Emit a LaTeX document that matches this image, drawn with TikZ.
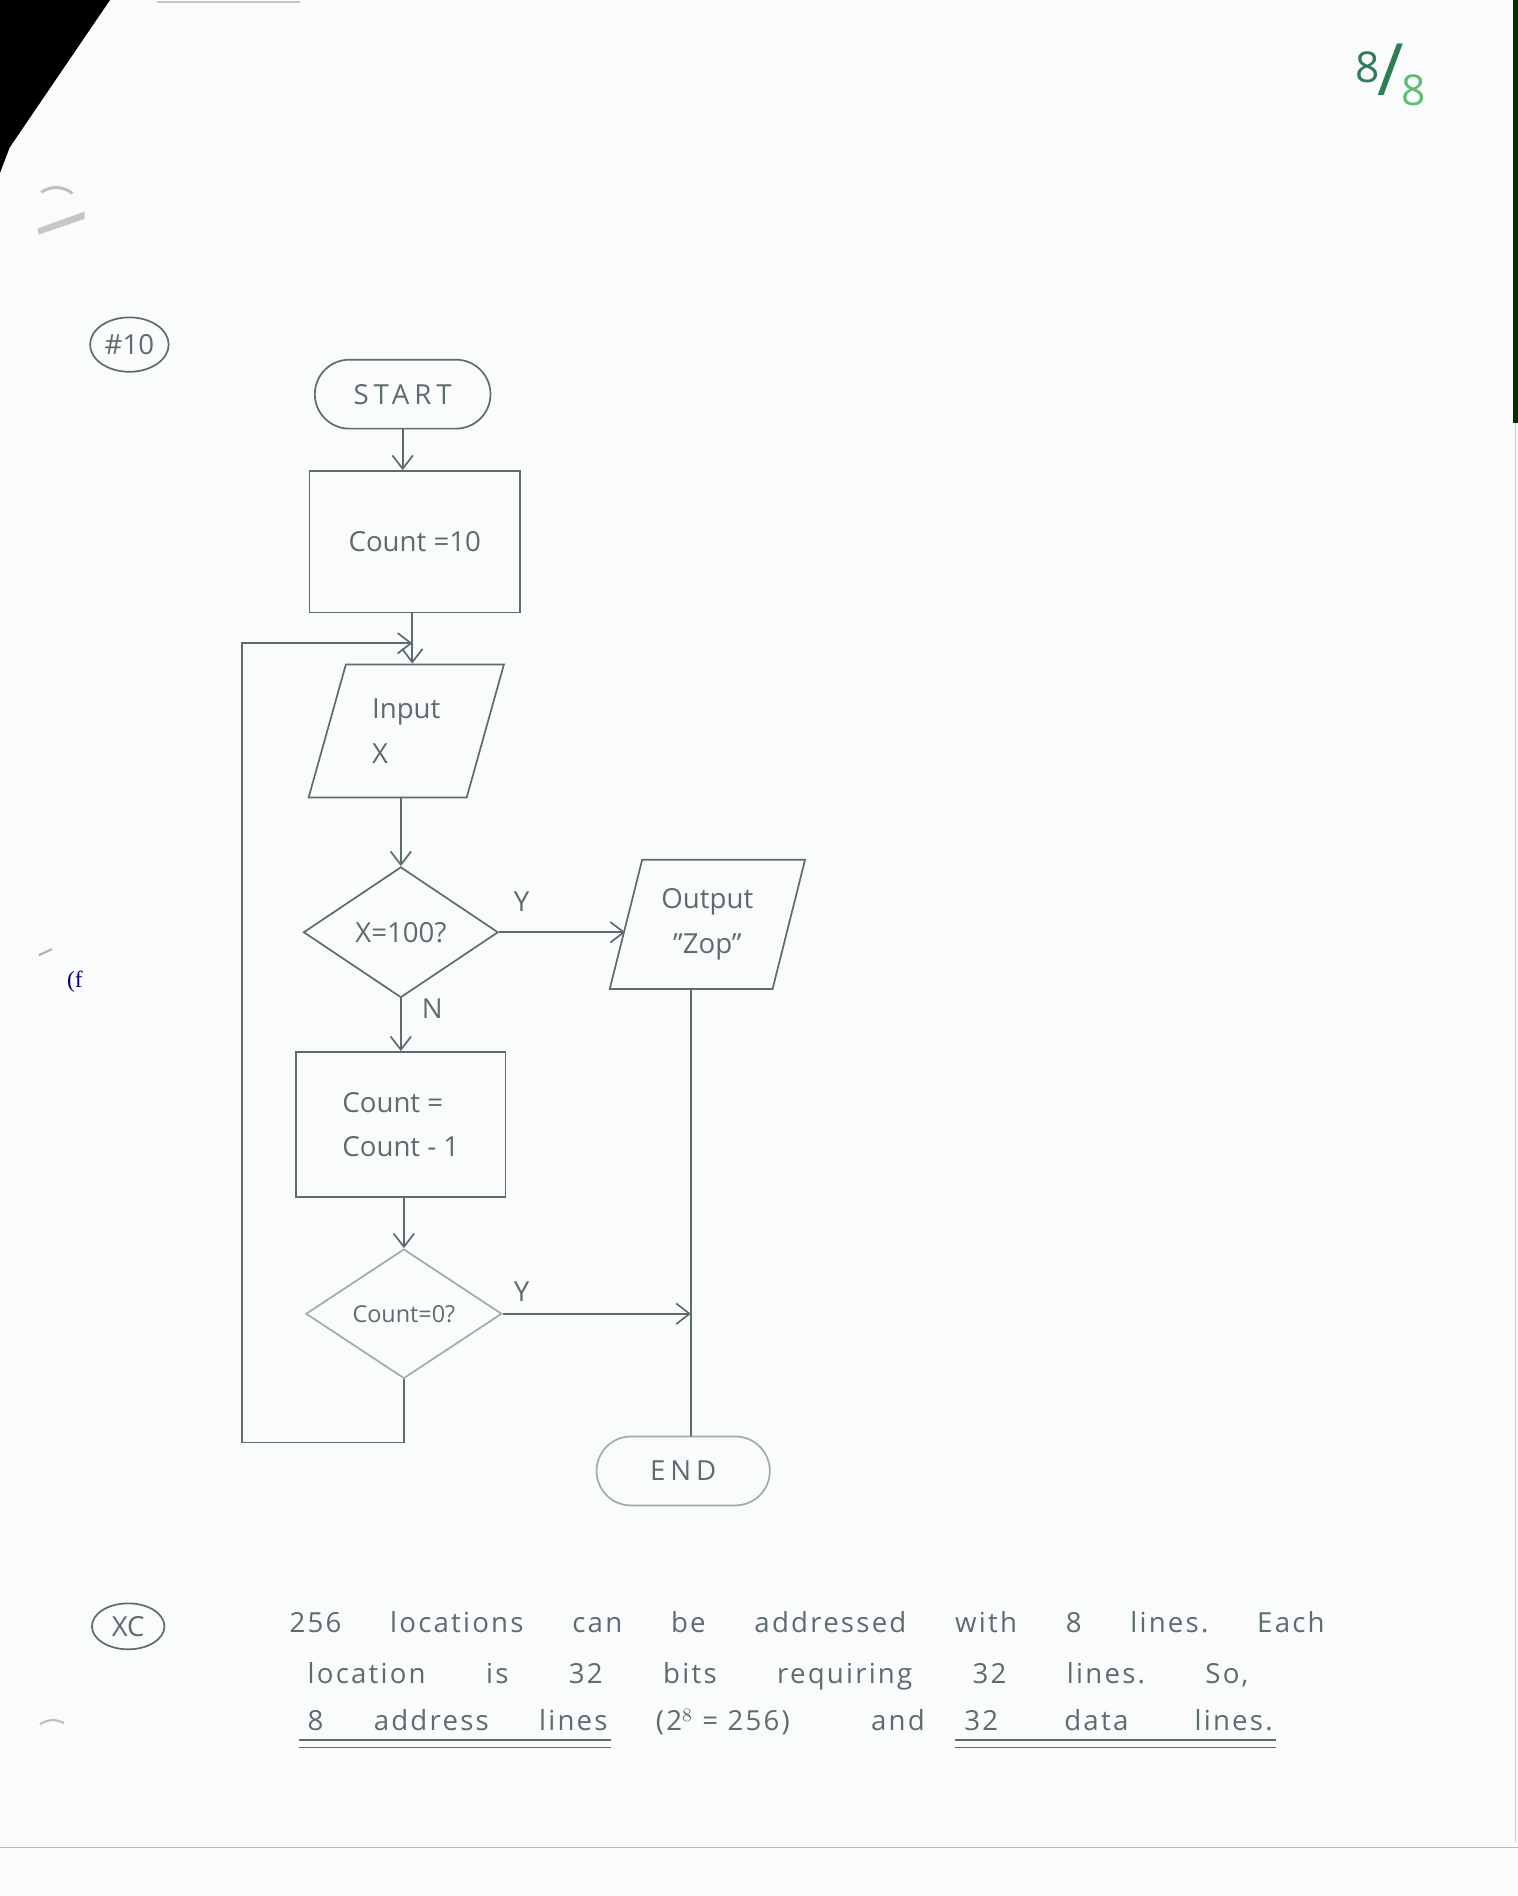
\documentclass[tikz,border=0pt]{standalone}
\usepackage{fontspec}
\setmainfont{Open Sans}
\newfontfamily\serifface{Liberation Serif}
\usetikzlibrary{shapes.geometric,shapes.misc,arrows.meta,calc}
\definecolor{paper}{RGB}{250,251,251}
\definecolor{pencil}{RGB}{92,108,112}
\definecolor{faint}{RGB}{155,172,178}
\definecolor{inkgreen}{RGB}{45,125,85}
\definecolor{litegreen}{RGB}{95,190,115}
\newcommand{\hand}{\fontsize{13}{21}\selectfont}
\frenchspacing

\begin{document}
\begin{tikzpicture}[>={Straight Barb[length=2.2mm,width=3.4mm]},line width=0.8pt,color=pencil,
    term/.style={rounded rectangle,draw,minimum width=3.14cm,minimum height=1.14cm,font=\hand},
    procbox/.style={rectangle,draw,minimum width=3.48cm,minimum height=2.34cm,font=\hand},
    iobox/.style={trapezium,trapezium left angle=75,trapezium right angle=105,draw,
        inner xsep=0pt,trapezium stretches=true,minimum width=3.24cm,minimum height=2.2cm,font=\hand},
    testbox/.style={diamond,draw,minimum width=3.22cm,minimum height=2.16cm,inner sep=0pt,font=\hand},
    lbl/.style={font=\hand,inner sep=1pt},
    ans/.style={font=\hand\addfontfeatures{LetterSpace=8},inner sep=1pt,anchor=base west}]
    % page and scan edges
    \fill[paper] (0,0) rectangle (25.1,31.36);
    \useasboundingbox (0,0) rectangle (25.1,31.36);
    \fill[black] (0,31.36) -- (1.82,31.36) -- (0.16,28.92) -- (0,28.5) -- cycle;
    \draw[gray!45,line width=1.2pt] (2.6,31.33) -- (4.96,31.33);
    \fill[black!80!green] (25.02,31.36) rectangle (25.1,24.36);
    \draw[litegreen!50,line width=0.6pt] (25.07,24.36) -- (25.07,0.9);
    \draw[gray!50,line width=1.4pt] (0.68,28.18) to[bend left=35] (1.2,28.16);
    \fill[gray!45] (0.62,27.58) -- (1.4,27.86) -- (1.4,27.74) -- (0.64,27.48) -- cycle;
    \draw[gray!60,line width=1pt] (0.64,15.56) -- (0.86,15.66);
    \draw[gray!50,line width=1pt] (0.66,2.84) to[bend left=30] (1.06,2.86);
    \draw[gray!55,line width=0.7pt] (0,0.8) -- (25.1,0.8);
    \node[text=blue!50!black,font=\serifface\fontsize{11}{11}\selectfont] (fmark) at (1.24,15.12) {(f};

    % flowchart
    \node[term] (start) at (6.66,24.84) {\addfontfeatures{LetterSpace=18}START};
    \node[procbox] (init) at (6.86,22.40) {Count =10};
    \node[iobox,align=left] (inp) at (6.72,19.27) {Input\\X};
    \node[testbox] (test) at (6.63,15.94) {X=100?};
    \node[iobox,align=center,minimum height=2.14cm] (outp) at (11.70,16.07) {Output\\"Zop"};
    \node[procbox,align=left,minimum width=3.46cm,minimum height=2.4cm] (decr) at (6.63,12.76) {Count =\\Count - 1};
    \node[testbox,draw=faint,minimum width=3.24cm,minimum height=2.14cm,font=\fontsize{11}{13}\selectfont] (zero) at (6.68,9.63) {Count=0?};
    \node[term,draw=faint,minimum width=3.1cm] (stop) at (11.30,7.03) {\addfontfeatures{LetterSpace=18}END};
    \coordinate (lp) at (4.00,7.50);
    \coordinate (jn) at (6.82,20.72);

    \draw[->] (start.south) -- (start.south |- init.north);
    \draw[->] (jn |- init.south) -- (jn |- inp.north);
    \draw[->] (test.north |- inp.south) -- (test.north);
    \draw[->] (test.east) -- node[lbl,above=3mm,pos=0.18] {Y} (test.east -| outp.left side);
    \draw[->] (test.south) -- node[lbl,right=3mm,pos=0.2] {N} (test.south |- decr.north);
    \draw[->] (zero.north |- decr.south) -- (zero.north);
    \draw (outp.bottom side) -- (outp.bottom side |- stop.north);
    \draw[->] (zero.east) -- node[lbl,above=1.5mm,pos=0.1] {Y} (zero.east -| outp.bottom side);
    \draw[->] (zero.south) |- (lp) |- (jn);

    % margin marks
    \node[ellipse,draw,minimum width=1.3cm,minimum height=0.9cm,inner sep=1pt,font=\hand] (qno) at (2.14,25.66) {\#10};
    \node[ellipse,draw,minimum width=1.2cm,minimum height=0.76cm,inner sep=1pt,font=\hand] (xc) at (2.12,4.46) {XC};
    \node[text=inkgreen,font=\fontsize{20}{20}\selectfont] (grade) at (23.0,30.12)
        {\raisebox{0.2cm}{8}\kern-1pt{\fontsize{34}{34}\selectfont/}\kern-1pt\raisebox{-0.18cm}{\color{litegreen}8}};

    % answer text
    \node[ans] (row1) at (4.74,4.36) {\makebox[17.12cm][s]{256 locations can be addressed with 8 lines. Each}};
    \node[ans] (row2) at (5.04,3.52) {\makebox[15.56cm][s]{location is 32 bits requiring 32 lines. So,}};
    \node[ans] (w1) at (5.04,2.74) {\makebox[4.96cm][s]{8 address lines}};
    \node[ans] (w2) at (10.80,2.74) {(2$^8$ = 256)};
    \node[ans] (w3) at (14.36,2.74) {and};
    \node[ans] (w4) at (15.90,2.74) {\makebox[5.1cm][s]{32 data lines.}};
    \foreach \w in {w1,w4}
        \foreach \d in {0.16,0.28}
            \draw[line width=0.6pt] ($(\w.base west)+(-0.1,-\d)$) -- ($(\w.base east)+(0,-\d)$);
\end{tikzpicture}
\end{document}
